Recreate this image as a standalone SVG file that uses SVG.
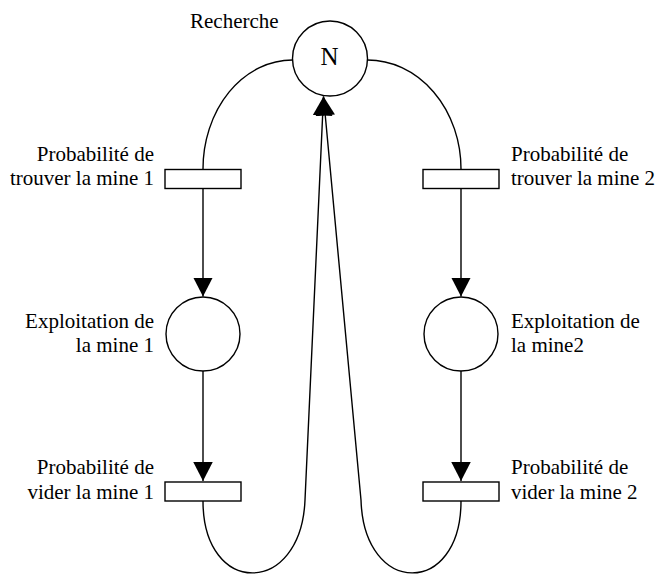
<svg xmlns="http://www.w3.org/2000/svg" width="658" height="575" viewBox="0 0 658 575">
<style>
.place{fill:#fff;stroke:#000;stroke-width:1.4}
.trans{fill:#fff;stroke:#000;stroke-width:1.4}
.arc{fill:none;stroke:#000;stroke-width:1.4}
.r{text-anchor:end}
</style>
<defs>
<marker id="ah" markerUnits="userSpaceOnUse" markerWidth="20" markerHeight="20" refX="19" refY="9.75" orient="auto" viewBox="0 0 20 20">
<path d="M0,0 L19,9.75 L0,19.5 Z" fill="#000"/>
</marker>
</defs>
<rect width="658" height="575" fill="#fff"/>
<g id="connectors">
<path class="arc" d="M292.5,60 A89.5,109 0 0 0 203,169"/>
<path class="arc" d="M367.5,60 A93.5,109 0 0 1 461,169"/>
<path class="arc" d="M203,188.5 L203,296.5" marker-end="url(#ah)"/>
<path class="arc" d="M461,188.5 L461,296.5" marker-end="url(#ah)"/>
<path class="arc" d="M203,371 L203,481" marker-end="url(#ah)"/>
<path class="arc" d="M461,371 L461,481" marker-end="url(#ah)"/>
<path class="arc" d="M203,501 C203,597 301,597 305,500 L323.5,96.5" marker-end="url(#ah)"/>
<path class="arc" d="M461,501 C461,597 364,597 361,500 L323.5,96.5" marker-end="url(#ah)"/>
</g>
<g font-family="'Liberation Serif', 'Times New Roman', 'DejaVu Serif', serif" font-size="21" fill="#000">
<g id="recherche">
<circle class="place" cx="330" cy="58.5" r="37.5"/>
<text x="329.5" y="65" text-anchor="middle" font-size="25">N</text>
<text x="190" y="28">Recherche</text>
</g>
<g id="trouver1">
<rect class="trans" x="165" y="169.5" width="76" height="19"/>
<text class="r" x="154" y="161">Probabilité de</text>
<text class="r" x="154" y="185">trouver la mine 1</text>
</g>
<g id="trouver2">
<rect class="trans" x="423" y="169.5" width="76" height="19"/>
<text x="511" y="161">Probabilité de</text>
<text x="511" y="185">trouver la mine 2</text>
</g>
<g id="exploitation1">
<circle class="place" cx="203" cy="334" r="37"/>
<text class="r" x="154" y="328">Exploitation de</text>
<text class="r" x="154" y="352">la mine 1</text>
</g>
<g id="exploitation2">
<circle class="place" cx="461" cy="334" r="37"/>
<text x="511" y="328">Exploitation de</text>
<text x="511" y="352">la mine2</text>
</g>
<g id="vider1">
<rect class="trans" x="165" y="482" width="76" height="19"/>
<text class="r" x="154" y="474">Probabilité de</text>
<text class="r" x="154" y="499">vider la mine 1</text>
</g>
<g id="vider2">
<rect class="trans" x="423" y="482" width="76" height="19"/>
<text x="511" y="474">Probabilité de</text>
<text x="511" y="499">vider la mine 2</text>
</g>
</g>
</svg>
